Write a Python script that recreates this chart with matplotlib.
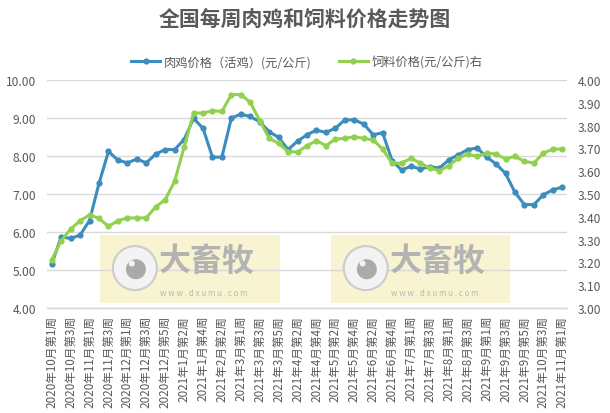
import matplotlib
matplotlib.use("Agg")
import matplotlib.pyplot as plt
from matplotlib.patches import Rectangle, Ellipse
from matplotlib.lines import Line2D

plt.rcParams['font.family'] = ['Noto Sans CJK SC', 'DejaVu Sans']

weeks = [
    "2020年10月第1周", "2020年10月第2周", "2020年10月第3周", "2020年10月第4周",
    "2020年11月第1周", "2020年11月第2周", "2020年11月第3周", "2020年11月第4周",
    "2020年12月第1周", "2020年12月第2周", "2020年12月第3周", "2020年12月第4周",
    "2020年12月第5周", "2021年1月第1周", "2021年1月第2周", "2021年1月第3周",
    "2021年1月第4周", "2021年2月第1周", "2021年2月第2周", "2021年2月第4周",
    "2021年3月第1周", "2021年3月第2周", "2021年3月第3周", "2021年3月第4周",
    "2021年3月第5周", "2021年4月第1周", "2021年4月第2周", "2021年4月第3周",
    "2021年4月第4周", "2021年5月第1周", "2021年5月第2周", "2021年5月第3周",
    "2021年5月第4周", "2021年6月第1周", "2021年6月第2周", "2021年6月第3周",
    "2021年6月第4周", "2021年6月第5周", "2021年7月第1周", "2021年7月第2周",
    "2021年7月第3周", "2021年7月第4周", "2021年8月第1周", "2021年8月第2周",
    "2021年8月第3周", "2021年8月第4周", "2021年9月第1周", "2021年9月第2周",
    "2021年9月第3周", "2021年9月第4周", "2021年9月第5周", "2021年10月第2周",
    "2021年10月第3周", "2021年10月第4周", "2021年11月第1周",
]

chicken_price = [
    5.16, 5.87, 5.83, 5.92, 6.30, 7.28, 8.12, 7.89, 7.82, 7.92,
    7.82, 8.05, 8.17, 8.17, 8.43, 8.99, 8.73, 7.97, 7.97, 9.00,
    9.10, 9.04, 8.90, 8.64, 8.49, 8.17, 8.39, 8.56, 8.68, 8.62,
    8.73, 8.95, 8.95, 8.84, 8.56, 8.61, 7.88, 7.63, 7.73, 7.66,
    7.72, 7.68, 7.90, 8.03, 8.17, 8.21, 7.97, 7.79, 7.54, 7.04,
    6.72, 6.72, 6.98, 7.11, 7.18,
]

feed_price = [
    3.212, 3.295, 3.346, 3.383, 3.408, 3.393, 3.358, 3.383, 3.395, 3.395,
    3.395, 3.444, 3.475, 3.556, 3.705, 3.855, 3.855, 3.865, 3.862, 3.936,
    3.936, 3.902, 3.822, 3.744, 3.722, 3.686, 3.684, 3.712, 3.734, 3.712,
    3.741, 3.744, 3.751, 3.744, 3.737, 3.697, 3.635, 3.635, 3.657, 3.635,
    3.614, 3.602, 3.624, 3.657, 3.675, 3.665, 3.679, 3.675, 3.654, 3.665,
    3.643, 3.636, 3.679, 3.697, 3.697,
]

left_ticks = [4.0, 5.0, 6.0, 7.0, 8.0, 9.0, 10.0]
right_ticks = [3.0, 3.1, 3.2, 3.3, 3.4, 3.5, 3.6, 3.7, 3.8, 3.9, 4.0]

BLUE = "#3c8dbc"
GREEN = "#92d050"
TXT = "#595959"
GRID = "#d9d9d9"

fig = plt.figure(figsize=(6.10, 4.14), dpi=100)
ax = fig.add_axes([47/610, 1-309/414, 520/610, 228/414])
ax2 = ax.twinx()

x = list(range(len(weeks)))

ax.set_ylim(4, 10)
ax.set_yticks(left_ticks)
ax.set_yticklabels([f"{v:.2f}" for v in left_ticks])
ax.yaxis.grid(True, color=GRID, linewidth=1.0)
ax.set_axisbelow(True)
ax.set_xlim(-0.5, len(weeks) - 0.5)

def watermark(x0, x1):
    y0, y1 = 0.022, 0.32
    ax.add_patch(Rectangle((x0, y0), x1 - x0, y1 - y0, transform=ax.transAxes,
                           facecolor="#f6efc2", edgecolor="none", alpha=0.75, zorder=0.5))
    cx = x0 + 0.067
    cy = 0.175
    ax.add_patch(Ellipse((cx, cy), 44/520, 44/228, transform=ax.transAxes,
                         facecolor="#f3f3f3", edgecolor="#cccccc", linewidth=1.5, zorder=0.6))
    ax.add_patch(Ellipse((cx + 0.002, cy - 0.005), 20/520, 20/228, transform=ax.transAxes,
                         facecolor="#aaaaaa", edgecolor="none", zorder=0.7))
    ax.add_patch(Ellipse((cx - 0.006, cy + 0.02), 6/520, 6/228, transform=ax.transAxes,
                         facecolor="#f3f3f3", edgecolor="none", zorder=0.8))
    ax.text(cx + 0.046, cy + 0.03, "大畜牧", transform=ax.transAxes, fontsize=23,
            fontweight="bold", color="#b3b3b3", ha="left", va="center", zorder=0.8)
    ax.text(cx + 0.048, cy - 0.105, "w w w . d x u m u . c o m", transform=ax.transAxes,
            fontsize=5.8, color="#b8b8b8", ha="left", va="center", zorder=0.8)

watermark(0.102, 0.448)
watermark(0.546, 0.890)

ax.plot(x, chicken_price, color=BLUE, linewidth=2.2, marker="o", markersize=4.5,
        markeredgewidth=0, zorder=3)
ax2.plot(x, feed_price, color=GREEN, linewidth=2.2, marker="o", markersize=4.5,
         markeredgewidth=0, zorder=3)
ax2.set_ylim(3.0, 4.0)
ax2.set_yticks(right_ticks)
ax2.set_yticklabels([f"{v:.2f}" for v in right_ticks])

ax.set_xticks(x[::2])
ax.set_xticklabels(weeks[::2], rotation=90, fontsize=8.4, color=TXT)
ax.tick_params(axis="x", length=0, pad=5)
ax.tick_params(axis="y", length=0, pad=8, labelsize=8.7, labelcolor=TXT)
ax2.tick_params(axis="y", length=0, pad=8, labelsize=8.7, labelcolor=TXT)

for a in (ax, ax2):
    for s in ("top", "left", "right"):
        a.spines[s].set_visible(False)
    a.spines["bottom"].set_color(GRID)
    a.spines["bottom"].set_linewidth(1.0)

fig.text(0.5, 1 - 19/414, "全国每周肉鸡和饲料价格走势图", ha="center", va="center",
         fontsize=15, fontweight="bold", color=TXT)

handles = [
    Line2D([0], [0], color=BLUE, linewidth=2.2, marker="o", markersize=4.5, markeredgewidth=0),
    Line2D([0], [0], color=GREEN, linewidth=2.2, marker="o", markersize=4.5, markeredgewidth=0),
]
leg = fig.legend(handles, ["肉鸡价格（活鸡）(元/公斤)", "饲料价格(元/公斤)右"],
                 loc="center", bbox_to_anchor=(0.503, 1 - 63/414), ncol=2, frameon=False,
                 fontsize=8.8, handlelength=2.4, columnspacing=2.2, handletextpad=0.3)
for t in leg.get_texts():
    t.set_color(TXT)

fig.savefig("out.png", dpi=100, facecolor="white")
